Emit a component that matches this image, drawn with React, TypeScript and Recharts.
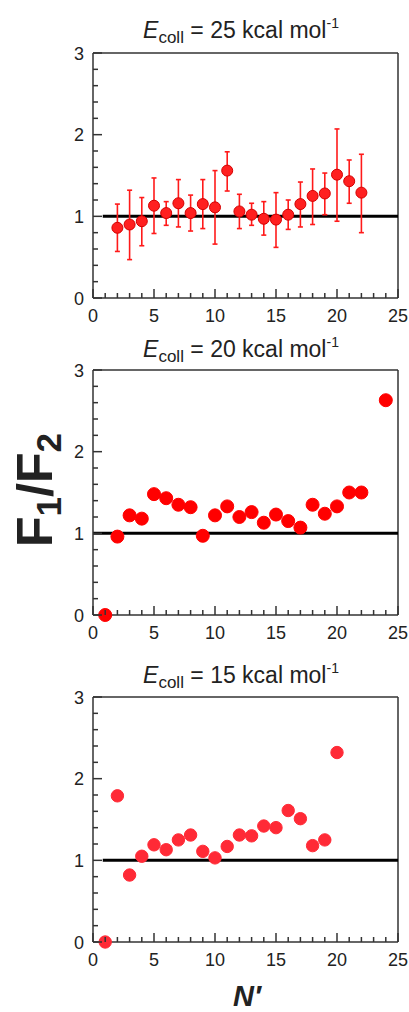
import { ErrorBar, ReferenceLine, Scatter, ScatterChart, XAxis, YAxis } from 'recharts'

// N' values and F1/F2 ratios
const n25 = [2, 3, 4, 5, 6, 7, 8, 9, 10, 11, 12, 13, 14, 15, 16, 17, 18, 19, 20, 21, 22]
const ratio25 = [0.86, 0.9, 0.94, 1.13, 1.04, 1.16, 1.04, 1.15, 1.11, 1.56, 1.06, 1.02, 0.97, 0.96, 1.02, 1.15, 1.25, 1.28, 1.51, 1.43, 1.29]
const low25 = [0.57, 0.47, 0.64, 0.79, 0.89, 0.87, 0.82, 0.85, 0.66, 1.31, 0.85, 0.89, 0.77, 0.62, 0.84, 0.87, 0.9, 1.02, 0.94, 1.16, 0.8]
const high25 = [1.15, 1.32, 1.23, 1.47, 1.18, 1.45, 1.26, 1.45, 1.56, 1.79, 1.27, 1.16, 1.18, 1.29, 1.2, 1.42, 1.58, 1.53, 2.07, 1.69, 1.76]

const n20 = [1, 2, 3, 4, 5, 6, 7, 8, 9, 10, 11, 12, 13, 14, 15, 16, 17, 18, 19, 20, 21, 22, 24]
const ratio20 = [0, 0.96, 1.22, 1.18, 1.48, 1.43, 1.35, 1.32, 0.97, 1.22, 1.33, 1.2, 1.26, 1.13, 1.23, 1.15, 1.07, 1.35, 1.24, 1.33, 1.5, 1.5, 2.63]

const n15 = [1, 2, 3, 4, 5, 6, 7, 8, 9, 10, 11, 12, 13, 14, 15, 16, 17, 18, 19, 20]
const ratio15 = [0, 1.79, 0.82, 1.05, 1.19, 1.13, 1.25, 1.31, 1.11, 1.03, 1.17, 1.31, 1.3, 1.42, 1.4, 1.61, 1.51, 1.18, 1.25, 2.32]

const xTicks = [0, 1, 2, 3, 4, 5, 6, 7, 8, 9, 10, 11, 12, 13, 14, 15, 16, 17, 18, 19, 20, 21, 22, 23, 24, 25]
const yTicks = [0, 0.2, 0.4, 0.6, 0.8, 1, 1.2, 1.4, 1.6, 1.8, 2, 2.2, 2.4, 2.6, 2.8, 3]

const FONT = '"Liberation Sans", Arial, Helvetica, sans-serif'
const AXIS = '#333333'
const TEXT = '#222222'

const W = 409
const CHART_H = 300
const PLOT_TOP = 20
const PLOT_BOTTOM = 265
const PLOT_LEFT = 93

const isMajor = (v: number) => Math.abs(v - Math.round(v)) < 1e-6

function XTick(props: any) {
  const { payload } = props
  const v = payload.value
  const x = payload.coordinate
  const major = v % 5 === 0
  return (
    <g>
      <line x1={x} x2={x} y1={PLOT_BOTTOM} y2={PLOT_BOTTOM - (major ? 9 : 5)} stroke={AXIS} strokeWidth={1.5} />
      {major && (
        <text x={x} y={PLOT_BOTTOM + 24} textAnchor="middle" fontFamily={FONT} fontSize={18} fill={TEXT}>
          {v}
        </text>
      )}
    </g>
  )
}

function YTick(props: any) {
  const { payload } = props
  const v = payload.value
  const y = payload.coordinate
  const major = isMajor(v)
  return (
    <g>
      <line x1={PLOT_LEFT} x2={PLOT_LEFT + (major ? 9 : 5)} y1={y} y2={y} stroke={AXIS} strokeWidth={1.5} />
      {major && (
        <text x={PLOT_LEFT - 9} y={y + 6.5} textAnchor="end" fontFamily={FONT} fontSize={18} fill={TEXT}>
          {Math.round(v)}
        </text>
      )}
    </g>
  )
}

type Pt = { n: number; r: number; err?: [number, number] }

function Panel({
  top,
  data,
  fill,
  edge,
  radius,
  lineStart,
  errors,
}: {
  top: number
  data: Pt[]
  fill: string
  edge: string
  radius: number
  lineStart: number
  errors?: boolean
}) {
  return (
    <div style={{ position: 'absolute', left: 0, top }}>
      <ScatterChart width={W} height={CHART_H} margin={{ top: PLOT_TOP, right: 11, bottom: 5, left: 0 }}>
        <XAxis
          type="number"
          dataKey="n"
          domain={[0, 25]}
          ticks={xTicks}
          interval={0}
          height={30}
          tickLine={false}
          axisLine={{ stroke: AXIS, strokeWidth: 1.5 }}
          tick={<XTick />}
        />
        <YAxis
          type="number"
          dataKey="r"
          domain={[0, 3]}
          ticks={yTicks}
          interval={0}
          width={PLOT_LEFT}
          tickLine={false}
          axisLine={{ stroke: AXIS, strokeWidth: 1.5 }}
          tick={<YTick />}
        />
        <ReferenceLine y={3} stroke={AXIS} strokeWidth={1.5} />
        <ReferenceLine x={25} stroke={AXIS} strokeWidth={1.5} />
        <ReferenceLine
          segment={[
            { x: lineStart, y: 1 },
            { x: 25, y: 1 },
          ]}
          stroke="#000000"
          strokeWidth={3}
        />
        <Scatter
          data={data}
          isAnimationActive={false}
          shape={(p: any) => <circle cx={p.cx} cy={p.cy} r={radius} fill={fill} stroke={edge} strokeWidth={1} />}
        >
          {errors && <ErrorBar dataKey="err" direction="y" width={2.5} stroke="#ff1a1a" strokeWidth={1.6} />}
        </Scatter>
      </ScatterChart>
    </div>
  )
}

function Title({ y, value }: { y: number; value: number }) {
  return (
    <text x={241} y={y} textAnchor="middle" fontFamily={FONT} fontSize={23} fill={TEXT}>
      <tspan fontStyle="italic">E</tspan>
      <tspan fontSize={17} dy={5}>
        coll
      </tspan>
      <tspan dy={-5}>{` = ${value} kcal mol`}</tspan>
      <tspan fontSize={14} dy={-10}>
        -1
      </tspan>
    </text>
  )
}

export default function App() {
  const d25: Pt[] = n25.map((n, i) => ({
    n,
    r: ratio25[i],
    err: [ratio25[i] - low25[i], high25[i] - ratio25[i]],
  }))
  const d20: Pt[] = n20.map((n, i) => ({ n, r: ratio20[i] }))
  const d15: Pt[] = n15.map((n, i) => ({ n, r: ratio15[i] }))

  return (
    <div style={{ position: 'absolute', left: 0, top: 0, width: W, height: 1012, background: '#fff' }}>
      <Panel top={33} data={d25} fill="#ff2020" edge="#d40000" radius={5.5} lineStart={0.8} errors />
      <Panel top={350} data={d20} fill="#ff0000" edge="#ff0000" radius={6.5} lineStart={0} />
      <Panel top={677} data={d15} fill="#ff2a36" edge="#ff2a36" radius={6.2} lineStart={0.8} />
      <svg width={W} height={1012} style={{ position: 'absolute', left: 0, top: 0, pointerEvents: 'none' }}>
        <Title y={38} value={25} />
        <Title y={357} value={20} />
        <Title y={683} value={15} />
        <text
          x={52}
          y={490}
          transform="rotate(-90 52 490)"
          textAnchor="middle"
          fontFamily={FONT}
          fontWeight="bold"
          fontSize={50}
          fill={TEXT}
        >
          F
          <tspan fontSize={35} dy={9}>
            1
          </tspan>
          <tspan dy={-9}>/F</tspan>
          <tspan fontSize={35} dy={9}>
            2
          </tspan>
        </text>
        <text
          x={247}
          y={1006}
          textAnchor="middle"
          fontFamily={FONT}
          fontWeight="bold"
          fontStyle="italic"
          fontSize={29}
          fill={TEXT}
        >
          N′
        </text>
      </svg>
    </div>
  )
}
